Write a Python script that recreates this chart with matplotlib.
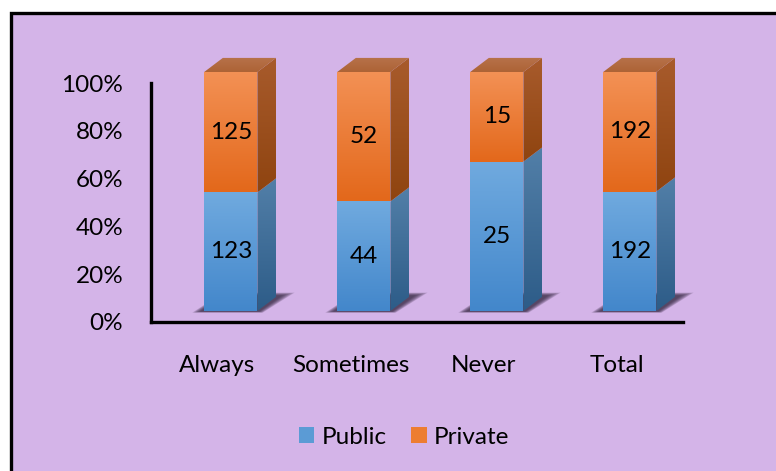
import numpy as np
import matplotlib
matplotlib.use("Agg")
import matplotlib.pyplot as plt
from matplotlib.patches import Polygon, Rectangle, Patch
from matplotlib.colors import to_rgb

# ------------------------------------------------------------ #
# Data
# ------------------------------------------------------------ #
categories = ["Always", "Sometimes", "Never", "Total"]
series_names = ["Public", "Private"]
public = [123, 44, 25, 192]
private = [125, 52, 15, 192]
y_ticks = [0, 20, 40, 60, 80, 100]

# ------------------------------------------------------------ #
# Style
# ------------------------------------------------------------ #
plt.rcParams["font.family"] = ["Lato", "DejaVu Sans"]
FS = 17.5
BG = "#D4B4E8"
FRONT = {"Public": ("#70AADF", "#4387CB"), "Private": ("#F39155", "#E3681B")}
SIDE = {"Public": ("#527FA8", "#2D5C88"), "Private": ("#A85B2C", "#8F4410")}
TOP = ("#B7724A", "#AD6336")
LEGEND_COLORS = {"Public": "#5B9BD5", "Private": "#ED7D31"}

# 3d look of the columns (data units)
BAR_W = 0.40
SHIFT_X = 0.10   # front face offset from the category position
SHIFT_Y = 4.6    # front face floats above the floor line
DEPTH_X = 0.14
DEPTH_Y = 5.9


def shade(ax, verts, c_top, c_bot, z):
    """Fill a polygon with a vertical gradient."""
    poly = Polygon(verts, closed=True, facecolor="none", edgecolor="none")
    ax.add_patch(poly)
    poly.set_clip_on(False)
    xs, ys = zip(*verts)
    grad = np.linspace(to_rgb(c_bot), to_rgb(c_top), 128)[:, None, :]
    im = ax.imshow(
        grad,
        extent=(min(xs), max(xs), min(ys), max(ys)),
        origin="lower",
        aspect="auto",
        interpolation="bilinear",
        zorder=z,
    )
    im.set_clip_path(poly)
    im.set_clip_box(ax.figure.bbox)


def floor_shadow(ax, x0, x1, base):
    """Soft dark shadow on the floor under a column, stronger near the middle."""
    for k in range(7):
        s = 1 - 0.11 * k
        verts = [
            (x0 - 0.09 * s, base - 0.7 * s),
            (x1 + 0.04 * s, base - 0.7 * s),
            (x1 + DEPTH_X + 0.14 * s, base + DEPTH_Y + 1.8 * s),
            (x0 + DEPTH_X, base + DEPTH_Y + 1.8 * s),
        ]
        p = Polygon(verts, closed=True, facecolor="#2B1F36", edgecolor="none",
                    alpha=0.17, zorder=3)
        p.set_clip_on(False)
        ax.add_patch(p)


fig = plt.figure(figsize=(7.76, 4.71), dpi=100, facecolor="white")

# chart area panel, behind the axes
panel = Rectangle((11 / 776, -0.05), 1.0, (471 - 13) / 471 + 0.05,
                  transform=fig.transFigure, facecolor=BG, edgecolor="black",
                  linewidth=2.4, zorder=-1)
fig.patches.append(panel)

ax = fig.add_axes([151 / 776, (471 - 322) / 471, 532 / 776, 239 / 471])
ax.set_facecolor("none")

totals = [a + b for a, b in zip(public, private)]
for i, cat in enumerate(categories):
    pub_pct = public[i] / totals[i] * 100
    xc = i + SHIFT_X
    x0, x1 = xc - BAR_W / 2, xc + BAR_W / 2
    base = SHIFT_Y
    floor_shadow(ax, x0, x1, base)

    segments = [
        ("Public", base, base + pub_pct, public[i]),
        ("Private", base + pub_pct, base + 100, private[i]),
    ]
    for name, lo, hi, val in segments:
        shade(ax, [(x0, lo), (x1, lo), (x1, hi), (x0, hi)], *FRONT[name], 5)
        shade(ax, [(x1, lo), (x1 + DEPTH_X, lo + DEPTH_Y),
                   (x1 + DEPTH_X, hi + DEPTH_Y), (x1, hi)], *SIDE[name], 5)
        ax.text(xc, (lo + hi) / 2, str(val), ha="center", va="center",
                fontsize=FS, color="black", zorder=6)

    top = base + 100
    shade(ax, [(x0, top), (x1, top), (x1 + DEPTH_X, top + DEPTH_Y),
               (x0 + DEPTH_X, top + DEPTH_Y)], *TOP, 5)

ax.set_xlim(-0.5, len(categories) - 0.5)
ax.set_ylim(0, 100)
ax.set_xticks(range(len(categories)))
ax.set_xticklabels(categories, fontsize=FS)
ax.set_yticks(y_ticks)
ax.set_yticklabels([f"{t}%" for t in y_ticks], fontsize=FS)
ax.tick_params(axis="both", length=0, colors="black")
ax.tick_params(axis="y", pad=20)
ax.tick_params(axis="x", pad=24)
for side in ["top", "right"]:
    ax.spines[side].set_visible(False)
for side in ["left", "bottom"]:
    ax.spines[side].set_linewidth(2.4)
    ax.spines[side].set_color("black")
    ax.spines[side].set_zorder(2)

handles = [Patch(facecolor=LEGEND_COLORS[n], label=n) for n in series_names]
fig.legend(handles=handles, loc="center", bbox_to_anchor=(404 / 776, 1 - 437 / 471),
           ncol=2, frameon=False, fontsize=FS, handlelength=0.65, handleheight=0.65,
           handletextpad=0.3, columnspacing=1.0)

fig.savefig("out.png", dpi=100, facecolor="white")
